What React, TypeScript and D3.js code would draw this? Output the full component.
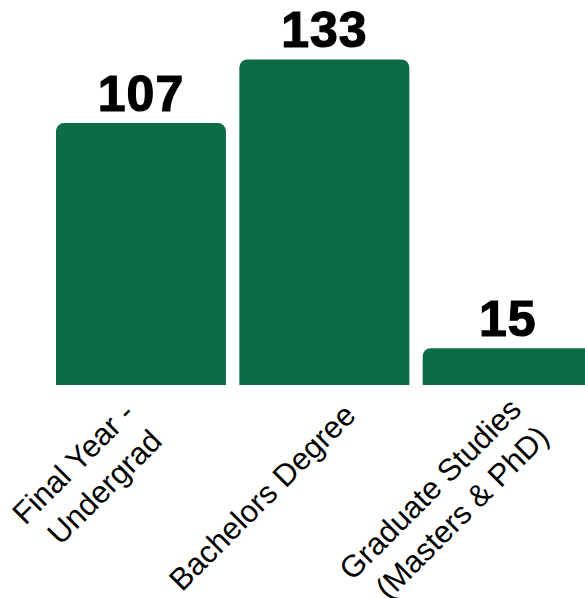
import React from "react";
import * as d3 from "d3";

const categories: string[][] = [
  ["Final Year -", "Undergrad"],
  ["Bachelors Degree"],
  ["Graduate Studies", "(Masters & PhD)"],
];
const values: number[] = [107, 133, 15];

const W = 585;
const H = 598;
const BASE = 385;
const GREEN = "#0d6b45";
// layout nudges for the rotated tick labels (screen px)
const labelNudge: [number, number][] = [
  [-21, 4],
  [3, -8],
  [-1, 0],
];

export default function App() {
  const keys = categories.map((c) => c.join(" "));
  const x = d3
    .scaleBand<string>()
    .domain(keys)
    .range([56, 592.7])
    .paddingInner(0.0728)
    .paddingOuter(0);
  const y = d3.scaleLinear().domain([0, 133]).range([BASE, 59.4]);
  const r = 8;

  const barPath = (x0: number, x1: number, yt: number) => {
    const p = d3.path();
    p.moveTo(x0, BASE);
    p.lineTo(x0, yt + r);
    p.arcTo(x0, yt, x0 + r, yt, r);
    p.lineTo(x1 - r, yt);
    p.arcTo(x1, yt, x1, yt + r, r);
    p.lineTo(x1, BASE);
    p.closePath();
    return p.toString();
  };

  const lineH = 39;
  return (
    <svg
      width={W}
      height={H}
      style={{ position: "absolute", left: 0, top: 0, display: "block" }}
    >
      {values.map((v, i) => {
        const k = keys[i];
        const x0 = x(k)!;
        const x1 = x0 + x.bandwidth();
        return <path key={k} d={barPath(x0, x1, y(v))} fill={GREEN} />;
      })}
      {values.map((v, i) => {
        const k = keys[i];
        const cx = x(k)! + x.bandwidth() / 2;
        return (
          <text
            key={"v" + k}
            x={cx}
            y={y(v) - 12}
            textAnchor="middle"
            fontFamily="'Liberation Sans', Arial, sans-serif"
            fontWeight="bold"
            fontSize={50}
            letterSpacing={1}
            stroke="#000"
            strokeWidth={1.2}
            fill="#000"
          >
            {v}
          </text>
        );
      })}
      {categories.map((lines, i) => {
        const k = keys[i];
        const cx = x(k)! + x.bandwidth() / 2;
        const n = lines.length;
        const [nx, ny] = labelNudge[i];
        return (
          <text
            key={"l" + k}
            transform={`translate(${cx + 30 + nx},${BASE + 40 + ny}) rotate(-45)`}
            textAnchor="end"
            fontFamily="'Liberation Sans', Arial, sans-serif"
            fontSize={31}
            fill="#000"
          >
            {lines.map((ln, j) => (
              <tspan key={j} x={0} y={(j - (n - 1) / 2) * lineH}>
                {ln}
              </tspan>
            ))}
          </text>
        );
      })}
    </svg>
  );
}
